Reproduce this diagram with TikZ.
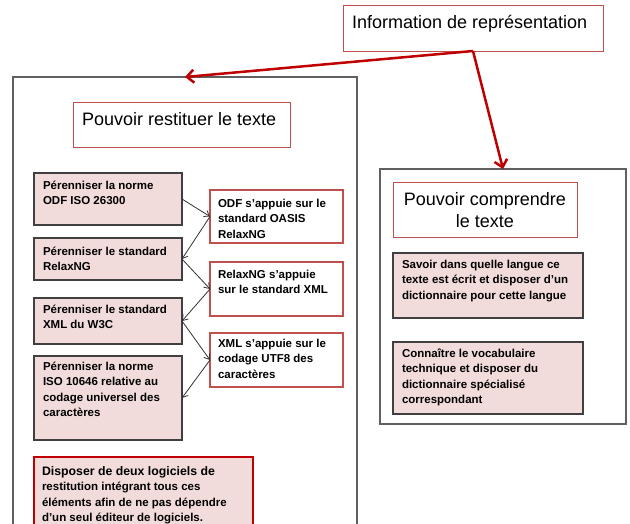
\documentclass[tikz,border=0pt]{standalone}
\usepackage{fontspec}
\setmainfont{Liberation Sans}
\usetikzlibrary{arrows.meta}
\definecolor{pinkfill}{HTML}{F2DCDB}
\definecolor{lightred}{HTML}{C0504D}
\definecolor{darkred}{HTML}{C00000}
\definecolor{arrowred}{HTML}{C00000}
\definecolor{boxgray}{HTML}{404040}
\definecolor{outergray}{HTML}{606060}
\newcommand\fstrut{\rule{0pt}{11pt}}
\newcommand\tstrut{\rule{0pt}{15pt}}
\tikzset{
  every node/.style={inner sep=0pt, outer sep=0pt},
  area/.style={draw=outergray, line width=1.2pt, anchor=north west},
  titlebox/.style={draw=lightred, line width=1pt, fill=white, anchor=north west},
  pinkbox/.style={draw=boxgray, line width=1.2pt, fill=pinkfill, anchor=north west},
  notebox/.style={draw=lightred, line width=1.2pt, fill=white, anchor=north west},
  keybox/.style={draw=darkred, line width=2pt, fill=pinkfill, anchor=north west},
  bodytext/.style={anchor=north west, align=left, font=\fontsize{11.5}{15.5}\selectfont\bfseries},
  titletext/.style={anchor=north west, align=left, font=\fontsize{18}{22}\selectfont},
  bigarrow/.style={draw=arrowred, line width=2.5pt, -{Straight Barb[length=7pt,width=13pt]}},
  linkarrow/.style={draw=black!80, line width=0.8pt, -{Straight Barb[length=5pt,width=7pt]}},
}
\begin{document}
\begin{tikzpicture}[x=1pt, y=-1pt]
\useasboundingbox (0,0) rectangle (630,523);
\clip (0,0) rectangle (630,523);
\fill[white] (0,0) rectangle (630,523);

% outer areas
\node[area, minimum width=344, minimum height=480] (left) at (13,77) {};
\node[area, minimum width=246, minimum height=255] (right) at (380,169) {};

% titles
\node[titlebox, minimum width=260, minimum height=46] (info) at (343,5) {};
\node[titletext] (infot) at (352,13) {\tstrut Information de représentation};

\node[titlebox, minimum width=217, minimum height=45] (rest) at (73,102) {};
\node[titletext] (restt) at (82,110) {\tstrut Pouvoir restituer le texte};

\node[titlebox, minimum width=184, minimum height=55] (comp) at (393,182) {};
\node[titletext, anchor=north, align=center] (compt) at (485,190) {\tstrut Pouvoir comprendre\\le texte};

% left column
\node[pinkbox, minimum width=148, minimum height=52] (p1) at (34,173) {};
\node[bodytext] (p1t) at (43,178) {\fstrut Pérenniser la norme\\ODF ISO 26300};
\node[pinkbox, minimum width=148, minimum height=42] (p2) at (34,238) {};
\node[bodytext] (p2t) at (43,244) {\fstrut Pérenniser le standard\\RelaxNG};
\node[pinkbox, minimum width=148, minimum height=46] (p3) at (34,298) {};
\node[bodytext] (p3t) at (43,302) {\fstrut Pérenniser le standard\\XML du W3C};
\node[pinkbox, minimum width=148, minimum height=84] (p4) at (34,356) {};
\node[bodytext] (p4t) at (43,359) {\fstrut Pérenniser la norme\\ISO 10646 relative au\\codage universel des\\caractères};

% middle column
\node[notebox, minimum width=133, minimum height=53] (r1) at (210,190) {};
\node[bodytext] (r1t) at (218,196) {\fstrut ODF s’appuie sur le\\standard OASIS\\RelaxNG};
\node[notebox, minimum width=133, minimum height=54] (r2) at (210,262) {};
\node[bodytext] (r2t) at (218,267) {\fstrut RelaxNG s’appuie\\sur le standard XML};
\node[notebox, minimum width=133, minimum height=54] (r3) at (210,333) {};
\node[bodytext] (r3t) at (218,336) {\fstrut XML s’appuie sur le\\codage UTF8 des\\caractères};

% key box
\node[keybox, minimum width=219, minimum height=100] (key) at (34,457) {};
\node[bodytext] (keyt) at (42,464) {\fstrut{\fontsize{12.3}{15.5}\selectfont Disposer de deux logiciels de}\\restitution intégrant tous ces\\éléments afin de ne pas dépendre\\d’un seul éditeur de logiciels.};

% right column
\node[pinkbox, minimum width=190, minimum height=65] (q1) at (393,253) {};
\node[bodytext] (q1t) at (402,257) {\fstrut Savoir dans quelle langue ce\\texte est écrit et disposer d’un\\dictionnaire pour cette langue};
\node[pinkbox, minimum width=190, minimum height=72] (q2) at (393,342) {};
\node[bodytext] (q2t) at (402,346) {\fstrut Connaître le vocabulaire\\technique et disposer du\\dictionnaire spécialisé\\correspondant};

% arrows
\draw[bigarrow] (info.south) -- (left.north);
\draw[bigarrow] (info.south) -- (right.north);

\draw[linkarrow] (p1.east) -- (r1.west);
\draw[linkarrow] (r1.west) -- (p2.east);
\draw[linkarrow] (p2.east) -- (r2.west);
\draw[linkarrow] (r2.west) -- (p3.east);
\draw[linkarrow] (p3.east) -- (r3.west);
\draw[linkarrow] (r3.west) -- (p4.east);
\end{tikzpicture}
\end{document}
